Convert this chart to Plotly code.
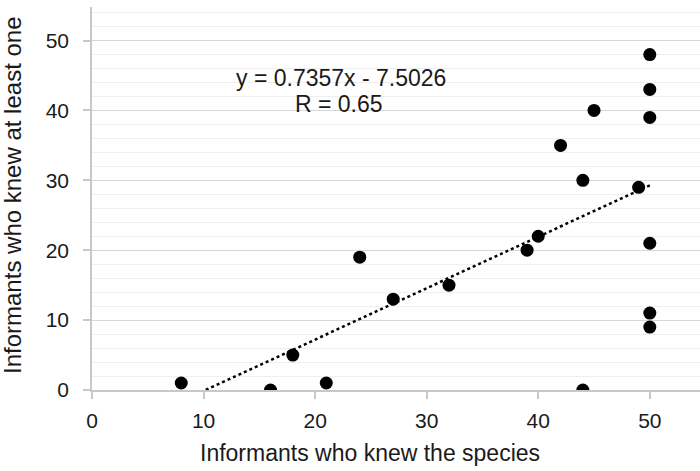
import plotly.graph_objects as go

knew_species = [8, 16, 18, 21, 24, 27, 32, 39, 40, 42, 44, 45, 44, 49, 50, 50, 50, 50, 50, 50]
knew_one = [1, 0, 5, 1, 19, 13, 15, 20, 22, 35, 30, 40, 0, 29, 48, 43, 39, 21, 11, 9]
slope = 0.7357
intercept = -7.5026
r_value = 0.65
trend_x_end = 50

x0 = -intercept / slope
trend_x = [x0 + (trend_x_end - x0) * i / 100 for i in range(101)]
trend_y = [slope * v + intercept for v in trend_x]

fig = go.Figure()
fig.add_trace(go.Scatter(x=trend_x, y=trend_y, mode="lines",
                         line=dict(color="black", width=2.5, dash="dot"),
                         hoverinfo="skip", showlegend=False))
fig.add_trace(go.Scatter(x=knew_species, y=knew_one, mode="markers",
                         marker=dict(color="black", size=13),
                         showlegend=False))

font = "Liberation Sans, Arial, sans-serif"
txt = "#1a1a1a"
fig.update_layout(
    width=700, height=471,
    margin=dict(l=92, r=0, t=7, b=81),
    plot_bgcolor="white", paper_bgcolor="white",
    font=dict(family=font, size=22, color=txt),
    showlegend=False,
    xaxis=dict(range=[0, 54.5], tickvals=[0, 10, 20, 30, 40, 50],
               showgrid=False, zeroline=False,
               showline=True, linecolor="#c8c8c8", linewidth=1.5,
               ticks="outside", ticklen=7, tickcolor="#c8c8c8", tickwidth=1.5,
               tickfont=dict(size=21, color=txt), ticklabelstandoff=4),
    yaxis=dict(range=[0, 54.8], tickvals=[0, 10, 20, 30, 40, 50],
               showgrid=True, gridcolor="#d6d6d6", gridwidth=1.3,
               zeroline=False,
               showline=True, linecolor="#c8c8c8", linewidth=1.5,
               ticks="outside", ticklen=7, tickcolor="#c8c8c8", tickwidth=1.5,
               tickfont=dict(size=21, color=txt), ticklabelstandoff=10,
               minor=dict(dtick=2, showgrid=True, gridcolor="#efefef", gridwidth=1.3)),
)

def px_x(p):
    return (p - 92) / 608

def px_y(p):
    return (390 - p) / 383

fig.add_annotation(text=f"y = {slope}x - {abs(intercept)}", xref="paper", yref="paper",
                   x=px_x(341), y=px_y(63), showarrow=False,
                   font=dict(size=23, color=txt))
fig.add_annotation(text=f"R = {r_value:.2f}", xref="paper", yref="paper",
                   x=px_x(339), y=px_y(89), showarrow=False,
                   font=dict(size=23, color=txt))
fig.add_annotation(text="Informants who knew the species", xref="paper", yref="paper",
                   x=px_x(370), y=px_y(453), showarrow=False,
                   font=dict(size=23, color=txt), yanchor="middle")
fig.add_annotation(text="Informants who knew at least one", xref="paper", yref="paper",
                   x=px_x(12), y=px_y(195), showarrow=False, textangle=-90,
                   font=dict(size=24, color=txt), xanchor="center", yanchor="middle")

fig.write_html("out.html")
